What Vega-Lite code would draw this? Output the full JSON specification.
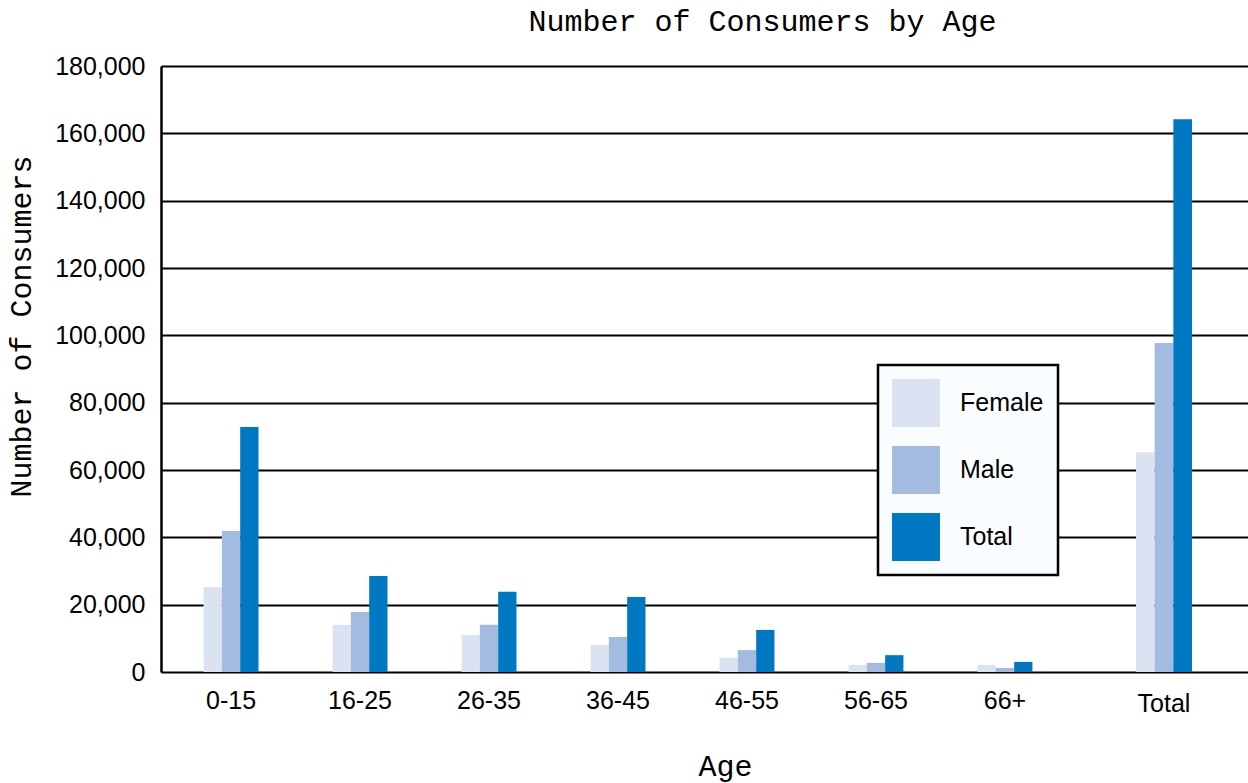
{
  "$schema": "https://vega.github.io/schema/vega-lite/v6.json",
  "width": 1087,
  "height": 606,
  "autosize": {"type": "none"},
  "padding": {"left": 161, "top": 66, "right": 0, "bottom": 111},
  "background": "white",
  "title": {
    "text": "Number of Consumers by Age",
    "font": "Liberation Mono",
    "fontSize": 30,
    "fontWeight": "normal",
    "color": "black",
    "anchor": "middle",
    "frame": "group",
    "dx": 58,
    "dy": 27,
    "baseline": "alphabetic",
    "offset": 20
  },
  "data": {
    "values": [
      {"age": "0-15", "sex": "Female", "count": 25200},
      {"age": "0-15", "sex": "Male", "count": 41900},
      {"age": "0-15", "sex": "Total", "count": 72800},
      {"age": "16-25", "sex": "Female", "count": 14000},
      {"age": "16-25", "sex": "Male", "count": 17800},
      {"age": "16-25", "sex": "Total", "count": 28500},
      {"age": "26-35", "sex": "Female", "count": 11000},
      {"age": "26-35", "sex": "Male", "count": 14000},
      {"age": "26-35", "sex": "Total", "count": 23800},
      {"age": "36-45", "sex": "Female", "count": 8000},
      {"age": "36-45", "sex": "Male", "count": 10400},
      {"age": "36-45", "sex": "Total", "count": 22300},
      {"age": "46-55", "sex": "Female", "count": 4200},
      {"age": "46-55", "sex": "Male", "count": 6500},
      {"age": "46-55", "sex": "Total", "count": 12500},
      {"age": "56-65", "sex": "Female", "count": 2100},
      {"age": "56-65", "sex": "Male", "count": 2700},
      {"age": "56-65", "sex": "Total", "count": 5000},
      {"age": "66+", "sex": "Female", "count": 2100},
      {"age": "66+", "sex": "Male", "count": 1200},
      {"age": "66+", "sex": "Total", "count": 3000},
      {"age": "Total", "sex": "Female", "count": 65300},
      {"age": "Total", "sex": "Male", "count": 97700},
      {"age": "Total", "sex": "Total", "count": 164200}
    ]
  },
  "encoding": {
    "y": {
      "field": "count",
      "type": "quantitative",
      "scale": {"domain": [0, 180000], "nice": false},
      "axis": {
        "values": [0, 20000, 40000, 60000, 80000, 100000, 120000, 140000, 160000, 180000],
        "format": ",d",
        "grid": true,
        "gridColor": "#000000",
        "gridWidth": 2,
        "gridOpacity": 1,
        "domain": true,
        "domainColor": "#000000",
        "domainWidth": 2.5,
        "ticks": false,
        "tickSize": 0,
        "labelFont": "Liberation Sans",
        "labelFontSize": 25,
        "labelColor": "#000000",
        "labelPadding": 16,
        "title": "Number of Consumers",
        "titleFont": "Liberation Mono",
        "titleFontSize": 30,
        "titleFontWeight": "normal",
        "titleColor": "#000000",
        "titleAngle": -90,
        "titleAlign": "center",
        "titleBaseline": "alphabetic",
        "titleX": -131,
        "titleY": 260
      }
    },
    "xOffset": {"field": "sex", "type": "nominal", "sort": ["Female", "Male", "Total"], "scale": {"paddingInner": 0, "paddingOuter": 0}},
    "color": {
      "field": "sex",
      "type": "nominal",
      "sort": ["Female", "Male", "Total"],
      "scale": {"domain": ["Female", "Male", "Total"], "range": ["#dbe3f3", "#a3bbe0", "#0079c2"]},
      "legend": {
        "orient": "none",
        "legendX": 717,
        "legendY": 299,
        "title": null,
        "fillColor": "#fafdff",
        "strokeColor": "#000000",
        "padding": 14,
        "cornerRadius": 0,
        "symbolType": "square",
        "symbolSize": 2304,
        "symbolStrokeWidth": 0,
        "symbolOpacity": 1,
        "labelFont": "Liberation Sans",
        "labelFontSize": 25,
        "labelColor": "#000000",
        "labelOffset": 20,
        "rowPadding": 19,
        "encode": {"legend": {"update": {"strokeWidth": {"value": 2.5}}}}
      }
    }
  },
  "layer": [
    {
      "mark": {"type": "bar", "opacity": 0},
      "encoding": {
        "x": {
          "field": "age",
          "type": "nominal",
          "scale": {"range": [0, 1087]},
          "axis": null
        }
      }
    },
    {
      "transform": [{"filter": "datum.age !== 'Total'"}],
      "mark": {"type": "bar"},
      "encoding": {
        "x": {
          "field": "age",
          "type": "nominal",
          "sort": ["0-15", "16-25", "26-35", "36-45", "46-55", "56-65", "66+"],
          "scale": {"range": [0, 914], "paddingInner": 0.574, "paddingOuter": 0.33},
          "axis": {
            "orient": "bottom",
            "labelAngle": 0,
            "domain": false,
            "ticks": false,
            "grid": false,
            "labelFont": "Liberation Sans",
            "labelFontSize": 25,
            "labelColor": "#000000",
            "labelPadding": 16,
            "title": "Age",
            "titleFont": "Liberation Mono",
            "titleFontSize": 30,
            "titleFontWeight": "normal",
            "titleColor": "#000000",
            "titleBaseline": "alphabetic",
            "titleAlign": "center",
            "titleX": 564,
            "titleY": 103
          }
        }
      }
    },
    {
      "transform": [{"filter": "datum.age === 'Total'"}],
      "mark": {"type": "bar"},
      "encoding": {
        "x": {
          "field": "age",
          "type": "nominal",
          "scale": {"range": [975, 1031], "paddingInner": 0, "paddingOuter": 0},
          "axis": {
            "orient": "bottom",
            "labelAngle": 0,
            "domain": false,
            "ticks": false,
            "grid": false,
            "labelFont": "Liberation Sans",
            "labelFontSize": 25,
            "labelColor": "#000000",
            "labelPadding": 19,
            "title": null
          }
        }
      }
    }
  ],
  "resolve": {"scale": {"x": "independent", "xOffset": "independent"}, "axis": {"x": "independent"}},
  "config": {"view": {"stroke": null}}
}
